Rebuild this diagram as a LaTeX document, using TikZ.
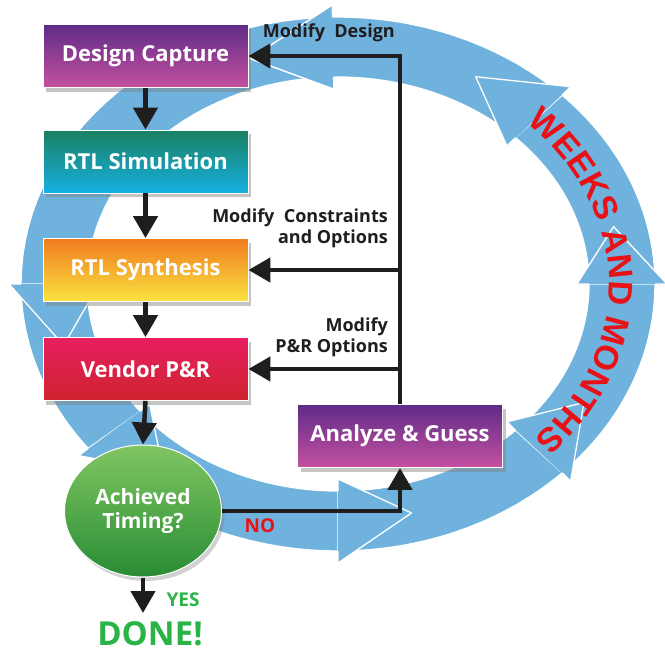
\documentclass[tikz,border=0pt]{standalone}
\usepackage{fontspec}
\setmainfont{Open Sans}
\newfontfamily\ringfont{Liberation Sans}
\usetikzlibrary{arrows.meta,shapes.geometric,shadows,decorations.text}

\definecolor{captureTop}{RGB}{94,44,136}
\definecolor{captureBot}{RGB}{198,80,160}
\definecolor{simTop}{RGB}{26,128,96}
\definecolor{simBot}{RGB}{22,176,226}
\definecolor{synthTop}{RGB}{240,124,30}
\definecolor{synthBot}{RGB}{250,226,64}
\definecolor{vendorTop}{RGB}{232,30,96}
\definecolor{vendorBot}{RGB}{206,36,46}
\definecolor{timingTop}{RGB}{128,198,98}
\definecolor{timingBot}{RGB}{40,140,52}
\definecolor{ringBlue}{RGB}{112,178,222}
\definecolor{doneGreen}{RGB}{42,180,72}
\definecolor{noRed}{RGB}{232,18,22}
\definecolor{arrowBlack}{RGB}{30,30,30}

\begin{document}
\begin{tikzpicture}[x=1pt, y=-1pt,
    stepbox/.style={rectangle, minimum width=205pt, minimum height=63pt, draw=white, line width=0.8pt,
      text=white, font=\fontsize{22}{26}\selectfont\bfseries,
      drop shadow={shadow xshift=3pt, shadow yshift=-4pt, opacity=0.45}},
    timingnode/.style={ellipse, minimum width=157pt, minimum height=132pt, draw=white, line width=1pt,
      top color=timingTop, bottom color=timingBot, text=white, align=center,
      font=\fontsize{21}{24}\selectfont\bfseries,
      drop shadow={shadow xshift=3pt, shadow yshift=-4pt, opacity=0.35}},
    flowarrow/.style={arrowBlack, line width=4.5pt, -{Triangle[width=24pt,length=22pt]}},
    fblabel/.style={font=\fontsize{18}{21}\selectfont\bfseries, align=right, inner sep=0pt, text=arrowBlack},
    ringband/.style={fill=ringBlue, draw=white, line width=1.3pt, line join=round},
    ringedge/.style={white, line width=1.3pt, line join=round}]

    % Page
    \path[fill=white, use as bounding box] (0,0) rectangle (665,654);

    % Ring of arrows (start / head back / tip angle)
    \foreach \s/\b/\t in {91/180/195, 180/218/232, 218/270/285, 270/315/330, 315/360/374, 0/45/61, 45/91/108}{
      \filldraw[ringband] plot[domain=0:1, samples=30] ({338+317*cos(\s+(\b-\s)*\x)},{284-267*sin(\s+(\b-\s)*\x)})
        -- ({338+329*cos(\b)},{284-279*sin(\b)})
        -- ({338+284*cos(\t)},{284-237*sin(\t)})
        -- ({338+239*cos(\b)},{284-195*sin(\b)})
        -- plot[domain=0:1, samples=30] ({338+251*cos(\b+(\s-\b)*\x)},{284-207*sin(\b+(\s-\b)*\x)})
        -- cycle;
    }
    % Heads on top of the next band
    \foreach \b/\t in {180/195, 218/232, 270/285, 315/330, 360/374, 45/61, 91/108}{
      \fill[ringBlue] ({338+329*cos(\b)},{284-279*sin(\b)}) -- ({338+284*cos(\t)},{284-237*sin(\t)})
        -- ({338+239*cos(\b)},{284-195*sin(\b)}) -- cycle;
      \draw[ringedge] ({338+317*cos(\b)},{284-267*sin(\b)}) -- ({338+329*cos(\b)},{284-279*sin(\b)})
        -- ({338+284*cos(\t)},{284-237*sin(\t)}) -- ({338+239*cos(\b)},{284-195*sin(\b)})
        -- ({338+251*cos(\b)},{284-207*sin(\b)});
    }

    % Ring text
    \path[decorate, decoration={text along path, text align=center, text color=noRed,
        text={|\ringfont\bfseries\fontsize{34}{34}\selectfont|WEEKS AND MONTHS}}]
      plot[domain=0:1, samples=60] ({338+271*cos(57-112*\x)},{284-224*sin(57-112*\x)});

    % Flow steps
    \node[stepbox, top color=captureTop, bottom color=captureBot] (capture) at (145.5,56) {Design Capture};
    \node[stepbox, top color=simTop, bottom color=simBot] (simulation) at (145.5,161.5) {RTL Simulation};
    \node[stepbox, top color=synthTop, bottom color=synthBot] (synthesis) at (145.5,270) {RTL Synthesis};
    \node[stepbox, top color=vendorTop, bottom color=vendorBot] (vendor) at (145.5,369) {Vendor P\&R};
    \node[stepbox, top color=captureTop, bottom color=captureBot] (analyze) at (400,436) {Analyze \& Guess};
    \node[timingnode] (timing) at (143,511) {Achieved\\Timing?};

    % Outcome
    \coordinate (yesend) at (143,613);
    \node[text=doneGreen, font=\fontsize{19}{19}\selectfont\bfseries] (yes) at (183,600) {YES};
    \node[text=doneGreen, font=\fontsize{33}{33}\selectfont\bfseries, anchor=base, inner sep=0pt] (done) at (150,645) {DONE!};
    \node[text=noRed, font=\fontsize{19}{19}\selectfont\bfseries] (no) at (260,526) {NO};

    % Main flow
    \draw[flowarrow] (capture.south) -- (simulation.north);
    \draw[flowarrow] (simulation.south) -- (synthesis.north);
    \draw[flowarrow] (synthesis.south) -- (vendor.north);
    \draw[flowarrow] (vendor.south) -- (timing.north);
    \draw[flowarrow] (timing.south) -- (yesend);

    % Feedback
    \draw[flowarrow] (timing.east) -| (analyze.south);
    \draw[flowarrow] (analyze.north) |- (capture.east);
    \draw[flowarrow] (analyze.north |- synthesis.east) -- (synthesis.east);
    \draw[flowarrow] (analyze.north |- vendor.east) -- (vendor.east);

    % Feedback labels
    \node[fblabel, anchor=base east] (moddesign) at (395,37) {Modify\ \ Design};
    \node[fblabel, anchor=south east] (modconstr) at (388,248) {Modify\ \ Constraints\\and Options};
    \node[fblabel, anchor=south east] (modpr) at (388,357) {Modify\\P\&R Options};
\end{tikzpicture}
\end{document}
